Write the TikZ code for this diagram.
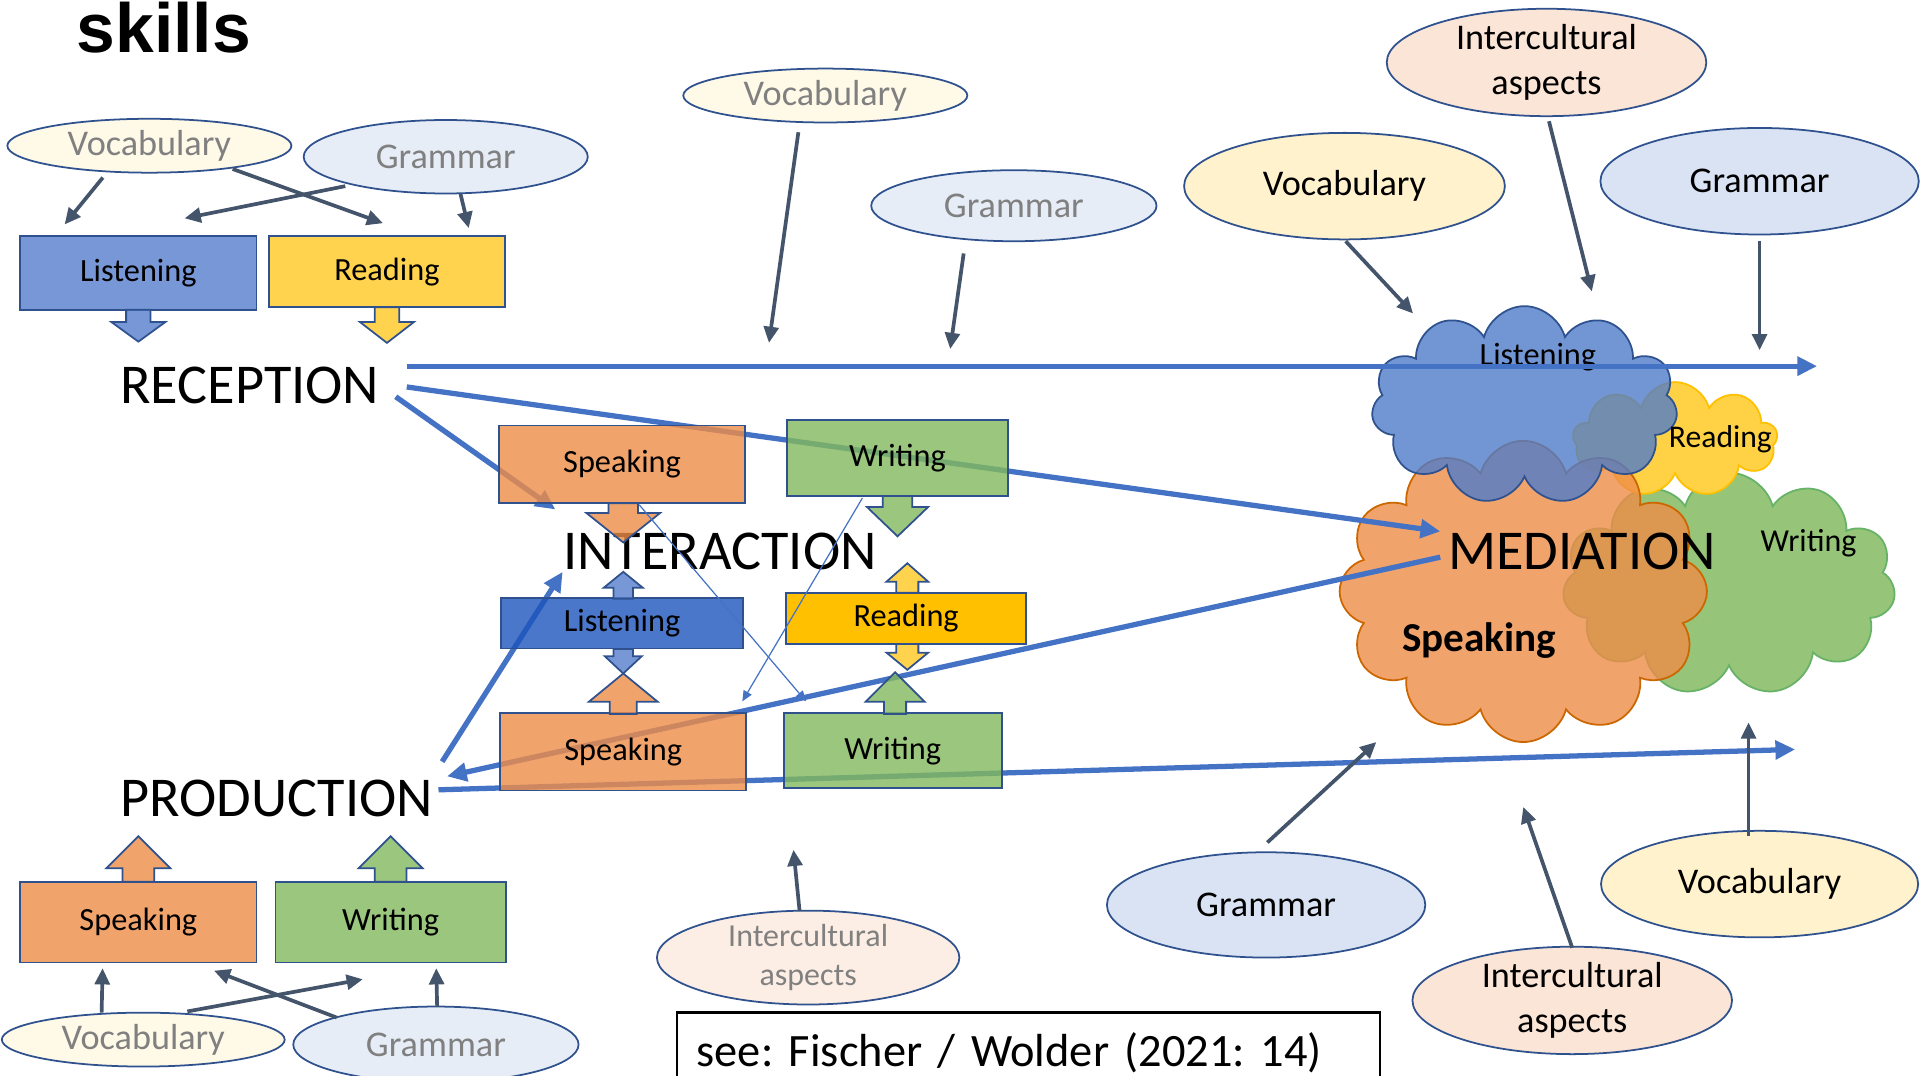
\documentclass[tikz,border=0pt]{standalone}
\usepackage{fontspec}
\setmainfont{Carlito}
\newfontfamily\titlefont{Liberation Sans}
\usepackage{tikz}
\usetikzlibrary{arrows.meta}
\usetikzlibrary{shapes.geometric}
\usetikzlibrary{shapes.symbols}

\newdimen\pxu
\pxu=0.12245mm

\definecolor{slate}{HTML}{44546A}
\definecolor{linkblue}{HTML}{4472C4}
\definecolor{edge}{HTML}{2F528F}
\definecolor{lis}{HTML}{557DCD}
\definecolor{lisdark}{HTML}{1D55BC}
\definecolor{rea}{HTML}{FFC922}
\definecolor{readark}{HTML}{FFC000}
\definecolor{spe}{HTML}{EE8C48}
\definecolor{wri}{HTML}{82B85D}
\definecolor{wricloud}{HTML}{96C478}
\definecolor{reacloud}{HTML}{FFD246}
\definecolor{specloud}{HTML}{EE8C48}
\definecolor{liscloud}{HTML}{4F7CC9}
\definecolor{vocfill}{HTML}{FFF2CC}
\definecolor{gramfill}{HTML}{DAE3F3}
\definecolor{icfill}{HTML}{FBE5D6}
\definecolor{greytext}{HTML}{808080}

\tikzset{skill/.style = {draw=edge, line width=0.5pt, fill opacity=0.8, text opacity=1,
                         minimum width=193\pxu, minimum height=60\pxu, inner sep=0,
                         font=\fontsize{9.2}{11}\selectfont}}
\tikzset{ell/.style = {ellipse, draw=edge, line width=0.5pt, inner sep=0, align=center,
                       font=\fontsize{10.3}{12.8}\selectfont}}
\tikzset{faded/.style = {text=greytext}}
\tikzset{big/.style = {inner sep=0, font=\fontsize{16}{19}\selectfont}}
\tikzset{feed/.style = {draw=slate, line width=1.05pt, -{Triangle[length=4.6pt,width=4.2pt]}}}
\tikzset{link/.style = {draw=linkblue, line width=1.5pt, -{Triangle[length=5.6pt,width=5.2pt]}}}
\tikzset{thinlink/.style = {draw=linkblue, line width=0.35pt, -{Triangle[length=3pt,width=2.6pt]}}}
\tikzset{puff/.style = {cloud, cloud puffs=11, cloud ignores aspect, inner sep=0, line width=0.5pt}}

% vertical block arrow: fill, x, start y, head y, tip y, shaft half, head half
\newcommand{\fatarrow}[7]{%
  \draw[draw=edge, line width=0.5pt, fill=#1, fill opacity=0.8]
    (#2-#6,#3) -- (#2-#6,#4) -- (#2-#7,#4) -- (#2,#5) -- (#2+#7,#4)
    -- (#2+#6,#4) -- (#2+#6,#3) -- cycle;}

\begin{document}
\begin{tikzpicture}[x=0.12245mm, y=-0.12245mm]
  \useasboundingbox (0,0) rectangle (1568,878);
  \clip (0,0) rectangle (1568,878);
  \fill[white] (0,0) rectangle (1568,878);

  \node[anchor=base west, inner sep=0, font=\titlefont\bfseries\fontsize{19.8}{24}\selectfont]
    (title) at (62,43) {skills};

  % mediation clouds
  \node[puff, draw=green!50!black!60, fill=wricloud, minimum width=272\pxu, minimum height=182\pxu] (wric) at (1412,477) {};
  \node[puff, cloud puffs=9, draw=readark, fill=reacloud, minimum width=167\pxu, minimum height=94\pxu] (reac) at (1368,359) {};
  \node[puff, cloud puffs=12, draw=orange!80!black, fill=specloud, fill opacity=0.8, minimum width=300\pxu, minimum height=246\pxu] (spec) at (1244,483) {};
  \node[puff, draw=edge, fill=liscloud, fill opacity=0.8, minimum width=250\pxu, minimum height=162\pxu] (lisc) at (1245,331) {};
  \node[inner sep=0, font=\fontsize{9.2}{11}\selectfont] (listxt) at (1256,292) {Listening};
  \node[inner sep=0, font=\fontsize{9}{11}\selectfont] (reatxt) at (1405,359) {Reading};
  \node[inner sep=0, font=\fontsize{9.1}{11}\selectfont] (writxt) at (1477,444) {Writing};
  \node[inner sep=0, font=\bfseries\fontsize{11.7}{14}\selectfont] (spetxt) at (1208,523) {Speaking};

  \node[big] (rec) at (204,315) {RECEPTION};
  \node[big] (int) at (588,450) {INTERACTION};
  \node[big] (prod) at (226,652) {PRODUCTION};
  \node[big] (med) at (1292,450) {MEDIATION};

  \coordinate (recend) at (1484,299);
  \coordinate (prodend) at (1466,612);

  \draw[link] ([shift={(22,-16)}]rec.east) -- (recend);
  \draw[link] ([shift={(22,1)}]rec.east) -- ([shift={(-6,-16)}]med.west);
  \draw[link] ([shift={(13,9)}]rec.east) -- ([shift={(-6,-34)}]int.west);
  \draw[link] ([shift={(7,-30)}]prod.east) -- ([shift={(0,17)}]int.west);
  \draw[link] ([shift={(-6,5)}]med.west) -- ([shift={(11,-18)}]prod.east);
  \draw[link] ([shift={(4,-7)}]prod.east) -- (prodend);

  % reception
  \node[skill, fill=lis] (lis1) at (113,223) {Listening};
  \node[skill, fill=rea, minimum height=58\pxu] (rea1) at (316,222) {Reading};
  \fatarrow{lis}{113}{253}{263}{279}{10}{22}
  \fatarrow{rea}{316}{251}{263}{280}{10}{22}

  % interaction
  \node[skill, fill=spe, minimum width=201\pxu, minimum height=63\pxu] (spe2) at (508,379) {Speaking};
  \node[skill, fill=wri, minimum width=180\pxu, minimum height=62\pxu] (wri2) at (733,374) {Writing};
  \node[skill, fill=lisdark, minimum width=198\pxu, minimum height=41\pxu] (lis2) at (508,509) {Listening};
  \node[skill, fill=readark, fill opacity=1, minimum width=196\pxu, minimum height=42\pxu] (rea2) at (740,505) {Reading};
  \node[skill, fill=spe, minimum width=201\pxu, minimum height=63\pxu] (spe3) at (509,614) {Speaking};
  \node[skill, fill=wri, minimum width=178\pxu, minimum height=61\pxu] (wri3) at (729,613) {Writing};
  \fatarrow{spe}{509}{411}{419}{443}{12}{30}
  \fatarrow{wri}{733}{405}{414}{438}{12}{25}
  \fatarrow{lis}{509}{489}{480}{467}{8}{16}
  \fatarrow{lis}{509}{530}{536}{550}{8}{15}
  \fatarrow{spe}{509}{583}{573}{550}{11}{28}
  \fatarrow{rea}{741}{484}{475}{460}{9}{17}
  \fatarrow{rea}{741}{526}{533}{547}{9}{17}
  \fatarrow{wri}{731}{583}{573}{549}{9}{24}
  \draw[thinlink] ([shift={(14,1)}]spe2.south) -- ([shift={(19,-9)}]wri3.north west);
  \draw[thinlink] ([shift={(62,1)}]wri2.south west) -- ([shift={(-4,-9)}]spe3.north east);

  % production
  \node[skill, fill=spe, minimum height=66\pxu] (spe1) at (113,753) {Speaking};
  \node[skill, fill=wri, minimum width=188\pxu, minimum height=66\pxu] (wri1) at (319,753) {Writing};
  \fatarrow{spe}{113}{720}{709}{683}{13}{26}
  \fatarrow{wri}{319}{720}{709}{683}{13}{26}

  % grey inputs
  \node[ell, faded, fill=vocfill!45, minimum width=232\pxu, minimum height=44\pxu] (voc1) at (122,119) {Vocabulary};
  \node[ell, faded, fill=gramfill!65, minimum width=232\pxu, minimum height=60\pxu] (gram1) at (364,128) {Grammar};
  \node[ell, faded, fill=vocfill!45, minimum width=232\pxu, minimum height=44\pxu] (voc2) at (674,78) {Vocabulary};
  \node[ell, faded, fill=gramfill!65, minimum width=233\pxu, minimum height=58\pxu] (gram2) at (828,168) {Grammar};
  \node[ell, faded, fill=vocfill!45, minimum width=231\pxu, minimum height=44\pxu] (voc5) at (117,849) {Vocabulary};
  \node[ell, faded, fill=gramfill!65, minimum width=233\pxu, minimum height=62\pxu] (gram5) at (356,853) {Grammar};
  \node[ell, faded, fill=icfill!65, font=\fontsize{9.1}{11.1}\selectfont, minimum width=247\pxu, minimum height=70\pxu] (ic2) at (660,782) {Intercultural\\aspects};

  % mediation inputs
  \node[ell, fill=icfill, minimum width=261\pxu, minimum height=87\pxu] (ic1) at (1263,51) {Intercultural\\aspects};
  \node[ell, fill=vocfill, minimum width=262\pxu, minimum height=87\pxu] (voc3) at (1098,152) {Vocabulary};
  \node[ell, fill=gramfill, minimum width=260\pxu, minimum height=87\pxu] (gram3) at (1437,148) {Grammar};
  \node[ell, fill=gramfill, minimum width=260\pxu, minimum height=86\pxu] (gram4) at (1034,739) {Grammar};
  \node[ell, fill=icfill, minimum width=261\pxu, minimum height=87\pxu] (ic3) at (1284,817) {Intercultural\\aspects};
  \node[ell, fill=vocfill, minimum width=259\pxu, minimum height=87\pxu] (voc4) at (1437,722) {Vocabulary};

  \coordinate (voc2end) at (628,280);
  \coordinate (gram2end) at (776,285);
  \coordinate (ic2end) at (648,694);
  \coordinate (gram3end) at (1437,286);
  \coordinate (ic3end) at (1244,659);
  \coordinate (voc4end) at (1428,590);

  \draw[feed] ([shift={(-38,26)}]voc1.center) -- ([shift={(37,-9)}]lis1.north west);
  \draw[feed] ([shift={(68,19)}]voc1.center) -- ([shift={(94,-10)}]rea1.north west);
  \draw[feed] ([shift={(-82,24)}]gram1.center) -- ([shift={(135,-14)}]lis1.north west);
  \draw[feed] ([shift={(12,30)}]gram1.center) -- ([shift={(164,-6)}]rea1.north west);

  \draw[feed] ([shift={(-22,30)}]voc2.center) -- (voc2end);
  \draw[feed] ([shift={(-41,39)}]gram2.center) -- (gram2end);
  \draw[feed] ([shift={(-7,-38)}]ic2.center) -- (ic2end);

  \draw[feed] ([shift={(-34,-22)}]voc5.center) -- ([shift={(68,4)}]spe1.south west);
  \draw[feed] ([shift={(36,-23)}]voc5.center) -- ([shift={(72,13)}]wri1.south west);
  \draw[feed] ([shift={(-81,-22)}]gram5.center) -- ([shift={(159,6)}]spe1.south west);
  \draw[feed] ([shift={(1,-31)}]gram5.center) -- ([shift={(132,4)}]wri1.south west);

  \draw[feed] ([shift={(1,45)}]voc3.center) -- ([shift={(-91,-75)}]lisc.center);
  \draw[feed] ([shift={(2,48)}]ic1.center) -- ([shift={(55,-93)}]lisc.center);
  \draw[feed] ([shift={(0,49)}]gram3.center) -- (gram3end);
  \draw[feed] ([shift={(1,-51)}]gram4.center) -- ([shift={(-120,123)}]spec.center);
  \draw[feed] ([shift={(0,-43)}]ic3.center) -- (ic3end);
  \draw[feed] ([shift={(-9,-39)}]voc4.center) -- (voc4end);

  % source
  \node[draw=black, line width=0.7pt, anchor=north west, inner xsep=16\pxu, inner ysep=16\pxu,
        text width=542\pxu, align=left, font=\frenchspacing\fontsize{13.2}{16}\selectfont] (src) at (552,826)
    {see: Fischer / Wolder (2021: 14)};
\end{tikzpicture}
\end{document}
